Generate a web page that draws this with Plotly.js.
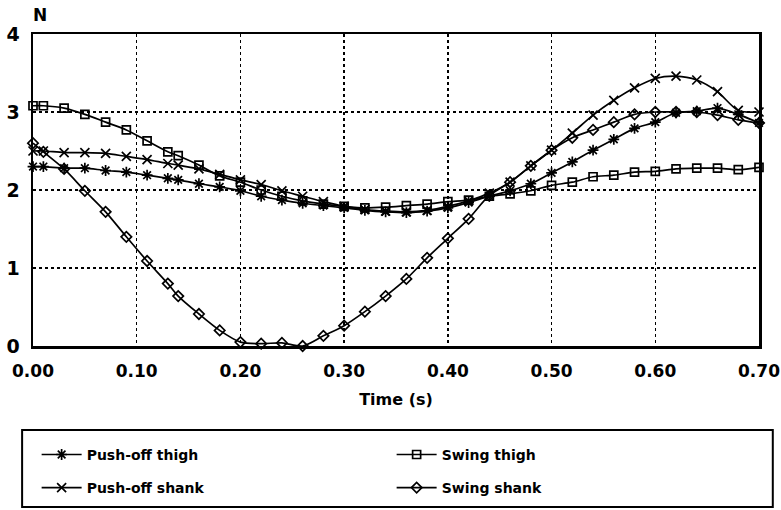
<!DOCTYPE html>
<html>
<head>
<meta charset="utf-8">
<script src="https://cdn.plot.ly/plotly-3.0.1.min.js"></script>
<style>html,body{margin:0;padding:0;background:#fff;}#chart{width:781px;height:510px;}</style>
</head>
<body>
<div id="chart"></div>
<script>
// Time samples (s)
const time = [0, 0.01, 0.03, 0.05, 0.07, 0.09, 0.11, 0.13, 0.14, 0.16, 0.18, 0.20, 0.22, 0.24, 0.26, 0.28, 0.30, 0.32, 0.34, 0.36, 0.38, 0.40, 0.42, 0.44, 0.46, 0.48, 0.50, 0.52, 0.54, 0.56, 0.58, 0.60, 0.62, 0.64, 0.66, 0.68, 0.70];

const pushOffThigh = [2.30, 2.30, 2.28, 2.28, 2.25, 2.23, 2.19, 2.15, 2.13, 2.08, 2.04, 1.99, 1.92, 1.87, 1.83, 1.80, 1.77, 1.74, 1.72, 1.71, 1.73, 1.77, 1.84, 1.92, 1.99, 2.08, 2.22, 2.36, 2.51, 2.65, 2.79, 2.87, 2.99, 3.01, 3.05, 2.97, 2.86];
const pushOffShank = [2.50, 2.50, 2.48, 2.48, 2.47, 2.43, 2.39, 2.34, 2.32, 2.27, 2.20, 2.13, 2.07, 1.99, 1.92, 1.85, 1.79, 1.75, 1.73, 1.72, 1.74, 1.79, 1.86, 1.96, 2.10, 2.31, 2.51, 2.73, 2.96, 3.15, 3.31, 3.43, 3.46, 3.41, 3.26, 3.02, 3.00];
const swingThigh = [3.08, 3.08, 3.05, 2.97, 2.87, 2.77, 2.63, 2.49, 2.44, 2.32, 2.18, 2.10, 2.00, 1.92, 1.86, 1.82, 1.79, 1.77, 1.78, 1.80, 1.82, 1.85, 1.87, 1.92, 1.95, 1.99, 2.06, 2.10, 2.17, 2.19, 2.23, 2.24, 2.27, 2.28, 2.28, 2.26, 2.29];
const swingShank = [2.60, 2.49, 2.27, 1.99, 1.72, 1.40, 1.09, 0.80, 0.64, 0.41, 0.20, 0.05, 0.03, 0.04, 0.00, 0.13, 0.26, 0.44, 0.64, 0.86, 1.13, 1.38, 1.63, 1.93, 2.10, 2.31, 2.51, 2.67, 2.77, 2.87, 2.97, 3.00, 3.00, 3.00, 2.96, 2.90, 2.86];

const seriesNames = ["Push-off thigh", "Swing thigh", "Push-off shank", "Swing shank"];
const xTickVals = [0, 0.1, 0.2, 0.3, 0.4, 0.5, 0.6, 0.7];
const yTickVals = [0, 1, 2, 3, 4];

const FONT = "DejaVu Sans, Liberation Sans, Arial, sans-serif";

function mk(name, y, symbol, size, legendId) {
  return {
    type: "scatter", mode: "lines+markers", name: name, x: time, y: y,
    legend: legendId,
    line: {color: "#000", width: 1.7, shape: "spline", smoothing: 0.8},
    marker: {symbol: symbol, size: size, color: "#000", line: {color: "#000", width: 1.7}},
    cliponaxis: false
  };
}

const data = [
  mk(seriesNames[0], pushOffThigh, "asterisk-open", 9, "legend"),
  mk(seriesNames[1], swingThigh, "square-open", 8, "legend"),
  mk(seriesNames[2], pushOffShank, "x-thin-open", 9, "legend2"),
  mk(seriesNames[3], swingShank, "diamond-open", 8, "legend2")
];

const legendStyle = (yPos) => ({
  orientation: "h", x: 0.005, y: yPos, xanchor: "left", yanchor: "middle",
  bgcolor: "rgba(0,0,0,0)", borderwidth: 0,
  entrywidth: 300, itemwidth: 40,
  font: {family: FONT, size: 14, color: "#000", weight: "bold"}
});

const layout = {
  width: 781, height: 510,
  margin: {l: 33, r: 22, t: 34, b: 164, autoexpand: false},
  paper_bgcolor: "#fff", plot_bgcolor: "#fff",
  font: {family: FONT, color: "#000"},
  showlegend: true,
  xaxis: {
    range: [0, 0.7], tickvals: xTickVals, tickformat: ".2f",
    showgrid: true, gridcolor: "#000", gridwidth: 1.3, griddash: "dot",
    showline: true, linecolor: "#000", linewidth: 2.5, mirror: true,
    ticks: "", zeroline: false, automargin: false, ticklabelstandoff: 8,
    tickfont: {family: FONT, size: 17, color: "#000", weight: "bold"},
    title: {text: "<b>Time (s)</b>", font: {family: FONT, size: 16, color: "#000"}, standoff: 14}
  },
  yaxis: {
    range: [0, 4], tickvals: yTickVals,
    showgrid: true, gridcolor: "#000", gridwidth: 1.3, griddash: "dot",
    showline: true, linecolor: "#000", linewidth: 2.5, mirror: true,
    ticks: "", zeroline: false, automargin: false, ticklabelstandoff: 7,
    tickfont: {family: FONT, size: 19, color: "#000", weight: "bold"}
  },
  legend: legendStyle(-0.349),
  legend2: legendStyle(-0.455),
  shapes: [{
    type: "rect", xref: "paper", yref: "paper",
    x0: -0.015, x1: 1.019, y0: -0.516, y1: -0.269,
    line: {color: "#000", width: 2}
  }],
  annotations: [{
    text: "<b>N</b>", xref: "paper", yref: "paper", x: 0.0, y: 1.0,
    xanchor: "left", yanchor: "bottom", yshift: 7, xshift: -2, showarrow: false,
    font: {family: FONT, size: 17, color: "#000"}
  }]
};

Plotly.newPlot("chart", data, layout, {staticPlot: true, displayModeBar: false});
</script>
</body>
</html>
